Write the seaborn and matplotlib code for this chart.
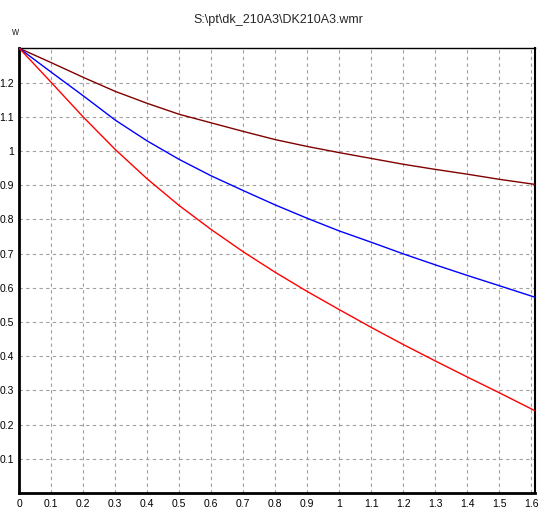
import numpy as np
import pandas as pd
import seaborn as sns
import matplotlib
matplotlib.use("Agg")
import matplotlib.pyplot as plt
from matplotlib.ticker import MultipleLocator, FixedLocator

# ---- data ----
x_vals = [0.0, 0.1, 0.2, 0.3, 0.4, 0.5, 0.6, 0.7, 0.8, 0.9, 1.0, 1.1, 1.2, 1.3, 1.4, 1.5, 1.6125]
brown_w = [1.300, 1.258, 1.215, 1.174, 1.139, 1.107, 1.082, 1.057, 1.033, 1.013, 0.995,
           0.978, 0.961, 0.946, 0.932, 0.917, 0.902]
blue_w = [1.300, 1.230, 1.161, 1.090, 1.029, 0.975, 0.927, 0.884, 0.842, 0.803, 0.766,
          0.733, 0.699, 0.667, 0.636, 0.606, 0.572]
red_w = [1.300, 1.200, 1.099, 1.004, 0.918, 0.840, 0.770, 0.705, 0.645, 0.589, 0.536,
         0.484, 0.434, 0.386, 0.339, 0.293, 0.240]
series_names = ["brown", "blue", "red"]
series_colors = ["#800000", "#0000ff", "#ff0000"]
x_ticks = [0.0, 0.1, 0.2, 0.3, 0.4, 0.5, 0.6, 0.7, 0.8, 0.9, 1.0, 1.1, 1.2, 1.3, 1.4, 1.5, 1.6]
x_tick_labels = ["0", "0.1", "0.2", "0.3", "0.4", "0.5", "0.6", "0.7", "0.8", "0.9", "1",
                 "1.1", "1.2", "1.3", "1.4", "1.5", "1.6"]
y_ticks = [0.1, 0.2, 0.3, 0.4, 0.5, 0.6, 0.7, 0.8, 0.9, 1.0, 1.1, 1.2]
y_tick_labels = ["0.1", "0.2", "0.3", "0.4", "0.5", "0.6", "0.7", "0.8", "0.9", "1", "1.1", "1.2"]
title_text = "S:\\pt\\dk_210A3\\DK210A3.wmr"
y_label = "w"

sns.set_style("white")
plt.rcParams["font.family"] = ["Liberation Sans", "DejaVu Sans"]

df = pd.DataFrame({
    "x": x_vals * 3,
    "w": brown_w + blue_w + red_w,
    "series": sum([[n] * len(x_vals) for n in series_names], []),
})

fig = plt.figure(figsize=(5.47, 5.17), dpi=100)
ax = fig.add_axes([19.3 / 547, 24 / 517, (535.3 - 19.3) / 547, (493 - 48.3) / 517])

sns.lineplot(data=df, x="x", y="w", hue="series", hue_order=series_names,
             palette=series_colors, linewidth=1.0, legend=False, ax=ax, zorder=3)

ax.set_xlim(0, 1.6125)
ax.set_ylim(0, 1.3)
ax.set_xticks(x_ticks)
ax.set_xticklabels(x_tick_labels)
ax.set_yticks(y_ticks)
ax.set_yticklabels(y_tick_labels)
ax.xaxis.set_minor_locator(MultipleLocator(0.02))
ax.yaxis.set_minor_locator(MultipleLocator(0.02))
ax.tick_params(axis="both", which="major", length=0, labelsize=7.5, pad=4, colors="#000000")
ax.tick_params(axis="x", which="minor", length=3, width=0.6, direction="out", color="#555555")
ax.tick_params(axis="y", which="minor", length=0)
ax.grid(True, which="major", color="#a0a0a0", linestyle=(0, (3, 3)), linewidth=0.8)
ax.set_axisbelow(True)
ax.set_xlabel("")
ax.set_ylabel("")
ax.spines["top"].set_visible(True)
ax.spines["top"].set_color("black")
ax.spines["top"].set_linewidth(1.0)
ax.spines["right"].set_visible(True)
ax.spines["right"].set_color("black")
ax.spines["right"].set_linewidth(1.5)
for side in ["left", "bottom"]:
    ax.spines[side].set_color("black")
    ax.spines[side].set_linewidth(2.0)

fig.text(278 / 547, 1 - 20 / 517, title_text, ha="center", va="center", fontsize=9)
fig.text(15 / 547, 1 - 32 / 517, y_label, ha="center", va="center", fontsize=7)

fig.savefig("out.png", dpi=100)
